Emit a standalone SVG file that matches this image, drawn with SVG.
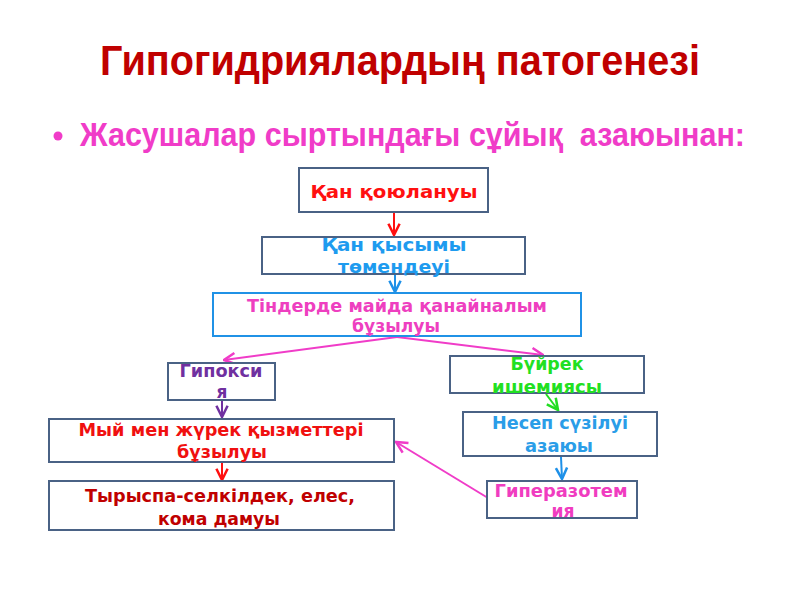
<svg xmlns="http://www.w3.org/2000/svg" width="800" height="600" viewBox="0 0 800 600">
<defs>
<style>
.box{fill:#fff;stroke:#4a6285;stroke-width:2}
.t{font-family:"DejaVu Sans","Liberation Sans",sans-serif;font-weight:bold;font-size:17px;text-anchor:middle}
.ttl{font-family:"Liberation Sans",Arial,sans-serif;font-weight:bold;text-anchor:middle}
.c{fill:none;stroke-width:2}
</style>
<marker id="aR" viewBox="0 0 10 10" refX="9" refY="5" markerWidth="7" markerHeight="7" orient="auto"><path d="M1,1 L9,5 L1,9" fill="none" stroke="#ff1010" stroke-width="1.8"/></marker>
<marker id="aB" viewBox="0 0 10 10" refX="9" refY="5" markerWidth="7" markerHeight="7" orient="auto"><path d="M1,1 L9,5 L1,9" fill="none" stroke="#1e90e8" stroke-width="1.8"/></marker>
<marker id="aM" viewBox="0 0 10 10" refX="9" refY="5" markerWidth="7" markerHeight="7" orient="auto"><path d="M1,1 L9,5 L1,9" fill="none" stroke="#f03cc8" stroke-width="1.8"/></marker>
<marker id="aP" viewBox="0 0 10 10" refX="9" refY="5" markerWidth="7" markerHeight="7" orient="auto"><path d="M1,1 L9,5 L1,9" fill="none" stroke="#7030a0" stroke-width="1.8"/></marker>
<marker id="aG" viewBox="0 0 10 10" refX="9" refY="5" markerWidth="7" markerHeight="7" orient="auto"><path d="M1,1 L9,5 L1,9" fill="none" stroke="#22dd22" stroke-width="1.8"/></marker>
</defs>
<rect width="800" height="600" fill="#fff"/>
<g id="title">
<text class="ttl" x="400" y="75" font-size="42" fill="#c00000" textLength="600" lengthAdjust="spacingAndGlyphs">Гипогидриялардың патогенезі</text>
<circle cx="58" cy="136" r="4.5" fill="#f03cc8"/>
<text x="80" y="146" xml:space="preserve" font-family="Liberation Sans,Arial,sans-serif" font-weight="bold" font-size="33" fill="#f03cc8" textLength="665" lengthAdjust="spacingAndGlyphs">Жасушалар сыртындағы сұйық  азаюынан:</text>
</g>
<g id="connectors">
<line class="c" x1="394" y1="213" x2="394" y2="235" stroke="#ff1010" marker-end="url(#aR)"/>
<line class="c" x1="395" y1="275" x2="395" y2="292" stroke="#1e90e8" marker-end="url(#aB)"/>
<line class="c" x1="397" y1="337" x2="224" y2="360" stroke="#f03cc8" marker-end="url(#aM)"/>
<line class="c" x1="397" y1="337" x2="543" y2="355" stroke="#f03cc8" marker-end="url(#aM)"/>
<line class="c" x1="222" y1="401" x2="222" y2="417" stroke="#7030a0" marker-end="url(#aP)"/>
<line class="c" x1="222" y1="463" x2="222" y2="480" stroke="#ff1010" marker-end="url(#aR)"/>
<line class="c" x1="546" y1="394" x2="558" y2="410" stroke="#22dd22" marker-end="url(#aG)"/>
<line class="c" x1="561" y1="457" x2="562" y2="479" stroke="#1e90e8" marker-end="url(#aB)"/>
<line class="c" x1="488" y1="498" x2="396" y2="442" stroke="#f03cc8" marker-end="url(#aM)"/>
</g>
<g id="n1"><rect class="box" x="299" y="168" width="189" height="44"/><text class="t" x="394" y="198" font-size="19" fill="#ff1010" textLength="167" lengthAdjust="spacingAndGlyphs">Қан қоюлануы</text></g>
<g id="n2"><rect class="box" x="262" y="237" width="263" height="37"/><text class="t" x="394" y="251" fill="#1e9bef" font-size="18" textLength="145" lengthAdjust="spacingAndGlyphs">Қан қысымы</text><text class="t" x="394" y="273" fill="#1e9bef" font-size="18" textLength="112" lengthAdjust="spacingAndGlyphs">төмендеуі</text></g>
<g id="n3"><rect x="213" y="293" width="368" height="43" fill="#fff" stroke="#2092e6" stroke-width="2"/><text class="t" x="397" y="312" fill="#ee3fc0" textLength="300" lengthAdjust="spacingAndGlyphs">Тіндерде майда қанайналым</text><text class="t" x="396" y="332" fill="#ee3fc0" textLength="88" lengthAdjust="spacingAndGlyphs">бұзылуы</text></g>
<g id="n4"><rect class="box" x="168" y="363" width="107" height="37"/><text class="t" x="221" y="377" fill="#7030a0" textLength="83" lengthAdjust="spacingAndGlyphs">Гипокси</text><text class="t" x="222" y="398" fill="#7030a0">я</text></g>
<g id="n5"><rect class="box" x="450" y="356" width="194" height="37"/><text class="t" x="547" y="370" fill="#22e022" textLength="73" lengthAdjust="spacingAndGlyphs">Бүйрек</text><text class="t" x="547" y="393" fill="#22e022" textLength="110" lengthAdjust="spacingAndGlyphs">ишемиясы</text></g>
<g id="n6"><rect class="box" x="49" y="419" width="345" height="43"/><text class="t" x="221" y="436" fill="#f01010" textLength="285" lengthAdjust="spacingAndGlyphs">Мый мен жүрек қызметтері</text><text class="t" x="222" y="458" fill="#f01010" textLength="90" lengthAdjust="spacingAndGlyphs">бұзылуы</text></g>
<g id="n7"><rect class="box" x="463" y="412" width="194" height="44"/><text class="t" x="560" y="429" fill="#2a9de8" textLength="136" lengthAdjust="spacingAndGlyphs">Несеп сүзілуі</text><text class="t" x="559" y="452" fill="#2a9de8" textLength="68" lengthAdjust="spacingAndGlyphs">азаюы</text></g>
<g id="n8"><rect class="box" x="49" y="481" width="345" height="49"/><text class="t" x="220" y="502" fill="#c00000" textLength="270" lengthAdjust="spacingAndGlyphs">Тырыспа-селкілдек, елес,</text><text class="t" x="219" y="525" fill="#c00000" textLength="122" lengthAdjust="spacingAndGlyphs">кома дамуы</text></g>
<g id="n9"><rect class="box" x="487" y="481" width="150" height="37"/><text class="t" x="561" y="497" fill="#f03cc0" textLength="133" lengthAdjust="spacingAndGlyphs">Гиперазотем</text><text class="t" x="563" y="517" fill="#f03cc0" textLength="23" lengthAdjust="spacingAndGlyphs">ия</text></g>
</svg>
